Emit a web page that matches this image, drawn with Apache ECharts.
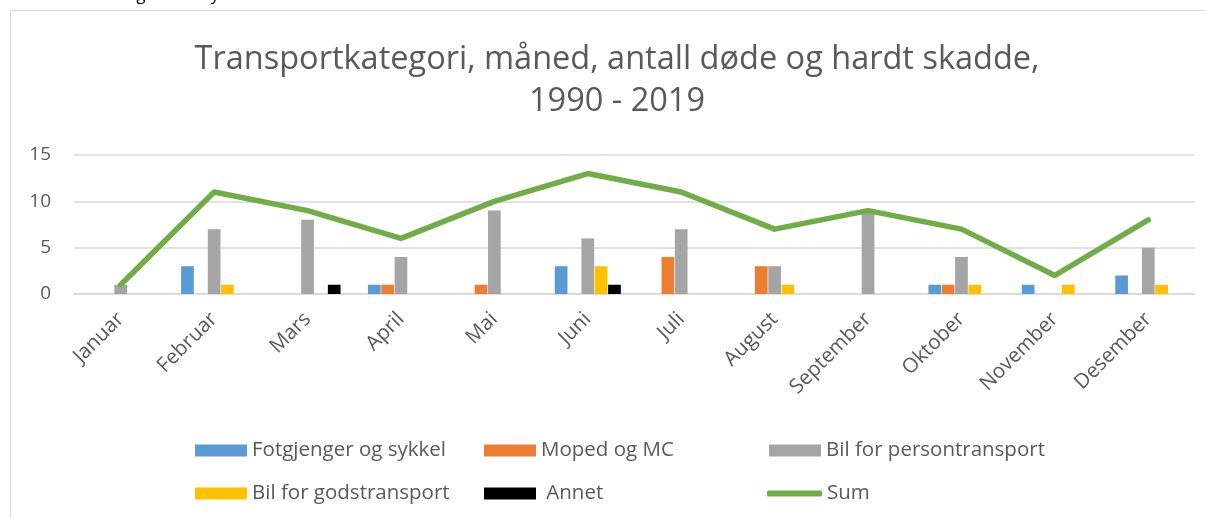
<!DOCTYPE html>
<html>
<head>
<meta charset="utf-8">
<script src="https://cdn.jsdelivr.net/npm/echarts@6/dist/echarts.min.js"></script>
<style>
  html, body { margin: 0; padding: 0; background: #fff; }
  #chart { width: 1206px; height: 518px; }
</style>
</head>
<body>
<div id="chart"></div>
<script>
// måneder
const months = ['Januar', 'Februar', 'Mars', 'April', 'Mai', 'Juni', 'Juli', 'August', 'September', 'Oktober', 'November', 'Desember']
// antall per transportkategori
const fotgjenger = [0, 3, 0, 1, 0, 3, 0, 0, 0, 1, 1, 2]
const moped = [0, 0, 0, 1, 1, 0, 4, 3, 0, 1, 0, 0]
const personbil = [1, 7, 8, 4, 9, 6, 7, 3, 9, 4, 0, 5]
const godsbil = [0, 1, 0, 0, 0, 3, 0, 1, 0, 1, 1, 1]
const annet = [0, 0, 1, 0, 0, 1, 0, 0, 0, 0, 0, 0]
const sum = [1, 11, 9, 6, 10, 13, 11, 7, 9, 7, 2, 8]
const yTicks = [0, 5, 10, 15]

const FONT = 'Open Sans'
const TXT = '#595959'

const myChart = echarts.init(document.getElementById('chart'))

// nuller tegnes ikke, som i Excel
const bar = (name, data, color) => ({
  name,
  type: 'bar',
  barWidth: 12.7,
  barGap: '5%',
  itemStyle: { color },
  data: data.map((v) => (v === 0 ? null : v))
})

const legendItem = (name, left, top, extra) => Object.assign({
  data: [name],
  left,
  top,
  padding: 0,
  itemWidth: 52,
  itemHeight: 12,
  icon: 'rect',
  selectedMode: false,
  textStyle: { fontFamily: FONT, fontSize: 20.5, color: TXT }
}, extra || {})

const options = {
  animation: false,
  textStyle: { fontFamily: FONT },
  title: [
    {
      text: 'Kilde: Statens vegvesen ulykkesstatistikk',
      left: 7,
      top: -13,
      padding: 0,
      textStyle: { fontFamily: FONT, fontSize: 17, fontWeight: 'normal', color: '#000' }
    },
    {
      text: 'Transportkategori, måned, antall døde og hardt skadde,\n1990 - 2019',
      left: 617,
      textAlign: 'center',
      top: 39,
      padding: 0,
      textStyle: { fontFamily: FONT, fontSize: 32.5, fontWeight: 'normal', color: TXT, lineHeight: 42 }
    }
  ],
  graphic: [
    {
      type: 'rect',
      shape: { x: 10.5, y: 10.5, width: 1400, height: 700 },
      style: { fill: null, stroke: '#d9d9d9', lineWidth: 1 },
      silent: true,
      z: -10
    }
  ],
  legend: [
    legendItem('Fotgjenger og sykkel', 195, 440),
    legendItem('Moped og MC', 484, 440),
    legendItem('Bil for persontransport', 769, 440),
    legendItem('Bil for godstransport', 195, 483),
    legendItem('Annet', 484, 483, { formatter: ' {name}' }),
    legendItem('Sum', 767, 483, { icon: 'roundRect', itemHeight: 6, itemWidth: 55 })
  ],
  grid: { left: 74, right: 11, top: 155, bottom: 224 },
  xAxis: {
    type: 'category',
    data: months,
    axisLine: { show: true, lineStyle: { color: '#d9d9d9', width: 1.5 } },
    axisTick: { show: false },
    axisLabel: {
      rotate: 45,
      interval: 0,
      margin: 22,
      fontFamily: FONT,
      fontSize: 20.5,
      color: TXT
    }
  },
  yAxis: {
    type: 'value',
    min: yTicks[0],
    max: yTicks[yTicks.length - 1],
    interval: 5,
    axisLine: { show: false },
    axisTick: { show: false },
    splitLine: { lineStyle: { color: '#d9d9d9', width: 1.5 } },
    axisLabel: { margin: 23, fontFamily: FONT, fontSize: 19, color: TXT }
  },
  series: [
    bar('Fotgjenger og sykkel', fotgjenger, '#5b9bd5'),
    bar('Moped og MC', moped, '#ed7d31'),
    bar('Bil for persontransport', personbil, '#a5a5a5'),
    bar('Bil for godstransport', godsbil, '#ffc000'),
    bar('Annet', annet, '#000000'),
    {
      name: 'Sum',
      type: 'line',
      data: sum,
      symbol: 'none',
      z: 5,
      itemStyle: { color: '#70ad47' },
      lineStyle: { color: '#70ad47', width: 5.5, cap: 'round', join: 'round' }
    }
  ]
}
myChart.setOption(options)
</script>
</body>
</html>
